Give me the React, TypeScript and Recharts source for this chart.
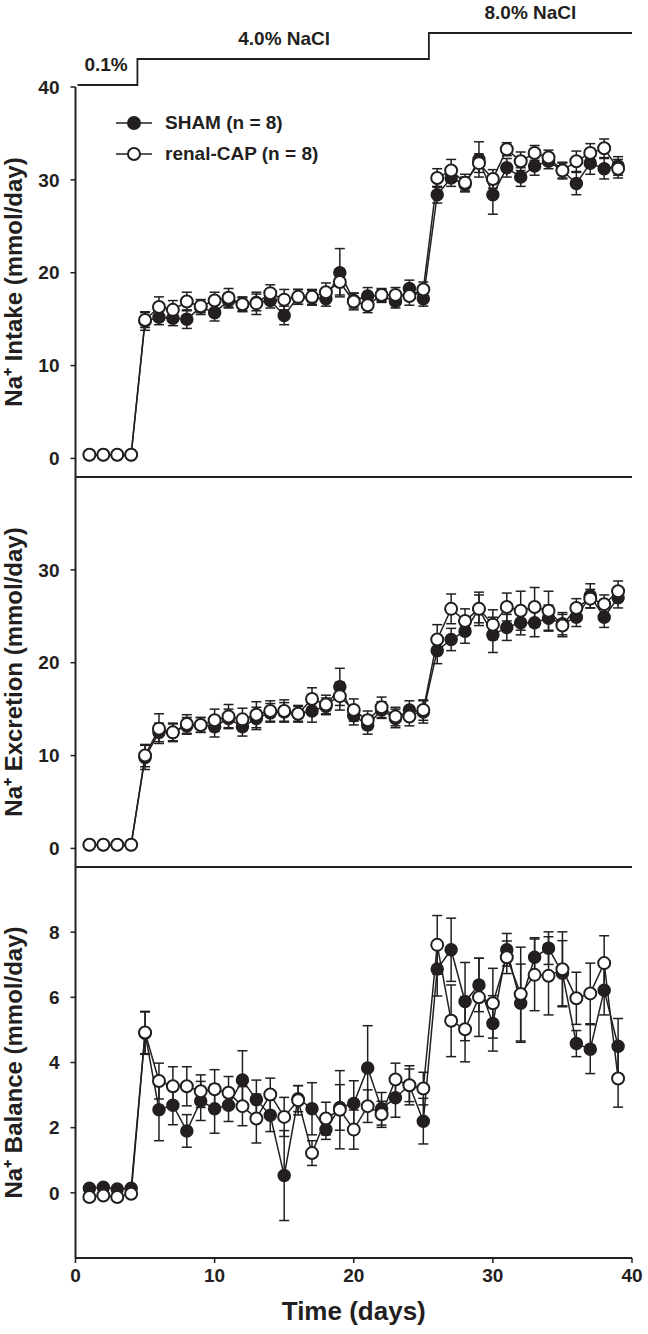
import React from 'react';
import {
  ComposedChart,
  Line,
  XAxis,
  YAxis,
  ErrorBar,
  ReferenceLine,
  ReferenceDot,
  Legend,
  Label
} from 'recharts';

const INK = '#231f20';
const FONT = '"Liberation Sans", Arial, sans-serif';

const days = [
  1, 2, 3, 4, 5, 6, 7, 8, 9, 10, 11, 12, 13, 14, 15, 16, 17, 18, 19, 20,
  21, 22, 23, 24, 25, 26, 27, 28, 29, 30, 31, 32, 33, 34, 35, 36, 37, 38, 39
];

// Na+ intake (mmol/day)
const intakeSham = [
  0.4, 0.4, 0.4, 0.4, 14.8, 15.2, 15.1, 15.0, 16.3, 15.7, 17.0, 16.6, 16.8, 17.0, 15.4, 17.4, 17.3, 17.2, 20.0, 17.0,
  17.5, 17.5, 16.9, 18.3, 17.2, 28.4, 30.2, 29.5, 32.2, 28.4, 31.3, 30.3, 31.5, 32.0, 31.0, 29.6, 31.8, 31.2, 31.5
];
const intakeCap = [
  0.4, 0.4, 0.4, 0.4, 14.9, 16.3, 16.0, 16.9, 16.4, 17.0, 17.3, 16.6, 16.7, 17.8, 17.1, 17.4, 17.4, 17.9, 19.0, 16.9,
  16.5, 17.6, 17.6, 17.5, 18.2, 30.2, 31.0, 29.7, 31.8, 30.1, 33.3, 32.0, 32.9, 32.4, 31.0, 32.0, 32.9, 33.4, 31.2
];
const intakeShamErr = [
  0.1, 0.1, 0.1, 0.1, 1.0, 0.8, 0.8, 1.0, 0.8, 0.9, 0.8, 0.7, 0.9, 0.8, 1.0, 0.8, 0.8, 0.8, 2.6, 0.8,
  0.9, 0.7, 0.7, 0.9, 0.8, 0.9, 0.9, 0.8, 1.9, 2.1, 1.0, 1.0, 1.0, 0.8, 0.8, 1.2, 1.2, 1.1, 1.0
];
const intakeCapErr = [
  0.1, 0.1, 0.1, 0.1, 0.8, 1.1, 1.0, 1.0, 0.7, 0.9, 1.0, 0.8, 1.2, 0.9, 1.1, 0.8, 0.8, 1.0, 1.4, 0.9,
  0.8, 0.7, 0.8, 1.0, 0.8, 1.0, 1.2, 0.9, 1.0, 1.0, 0.7, 1.0, 0.8, 0.8, 0.9, 1.1, 1.0, 1.0, 1.0
];

// Na+ excretion (mmol/day)
const excSham = [
  0.4, 0.4, 0.4, 0.4, 9.8, 12.5, 12.5, 13.2, 13.3, 13.1, 14.0, 13.1, 14.0, 14.6, 14.7, 14.5, 14.8, 15.3, 17.4, 14.3,
  13.3, 14.9, 14.0, 14.9, 14.7, 21.3, 22.5, 23.4, 25.8, 23.0, 23.8, 24.3, 24.3, 24.8, 24.2, 24.9, 27.2, 24.9, 27.0
];
const excCap = [
  0.4, 0.4, 0.4, 0.4, 10.0, 12.9, 12.5, 13.4, 13.3, 13.8, 14.2, 13.9, 14.4, 14.8, 14.8, 14.5, 16.1, 15.5, 16.4, 14.9,
  13.8, 15.2, 14.2, 14.2, 14.9, 22.5, 25.8, 24.5, 25.8, 24.1, 26.0, 25.6, 26.0, 25.6, 24.0, 25.9, 26.9, 26.3, 27.7
];
const excShamErr = [
  0.1, 0.1, 0.1, 0.1, 1.3, 1.0, 0.9, 0.9, 0.8, 1.1, 1.0, 1.0, 1.2, 1.0, 1.0, 0.9, 1.2, 0.9, 2.0, 1.0,
  1.0, 0.9, 1.0, 1.0, 1.2, 1.4, 1.2, 1.3, 1.5, 1.9, 1.4, 1.3, 1.5, 1.4, 1.2, 1.0, 1.3, 1.1, 1.1
];
const excCapErr = [
  0.1, 0.1, 0.1, 0.1, 1.2, 1.6, 1.0, 1.0, 0.8, 1.2, 1.3, 1.2, 1.4, 1.1, 1.2, 0.8, 1.2, 1.0, 1.5, 1.2,
  1.0, 1.1, 1.0, 1.0, 1.1, 1.6, 1.6, 1.3, 1.8, 1.6, 1.5, 2.1, 2.1, 2.1, 1.2, 1.0, 1.0, 1.0, 1.1
];

// Na+ balance (mmol/day)
const balSham = [
  0.14, 0.17, 0.12, 0.14, 4.9, 2.55, 2.69, 1.9, 2.82, 2.58, 2.69, 3.46, 2.86, 2.38, 0.53, 2.89, 2.58, 1.94, 2.62, 2.74,
  3.83, 2.58, 2.92, 3.3, 2.2, 6.87, 7.46, 5.87, 6.38, 5.2, 7.46, 5.82, 7.23, 7.51, 6.74, 4.58, 4.41, 6.22, 4.5
];
const balCap = [
  -0.13, -0.08, -0.13, -0.03, 4.92, 3.43, 3.27, 3.27, 3.12, 3.18, 3.07, 2.66, 2.28, 3.02, 2.33, 2.84, 1.22, 2.28, 2.55, 1.94,
  2.66, 2.41, 3.48, 3.3, 3.2, 7.61, 5.28, 5.02, 6.0, 5.82, 7.23, 6.1, 6.69, 6.66, 6.86, 5.97, 6.12, 7.05, 3.51
];
const balShamErr = [
  0.05, 0.05, 0.05, 0.05, 0.65, 0.95, 0.6, 0.5, 0.6, 0.75, 0.5, 0.9, 0.6, 0.5, 1.38, 0.4, 0.8, 0.3, 0.7, 0.7,
  1.3, 0.5, 0.6, 0.5, 0.7, 0.83, 0.97, 1.2, 0.82, 0.85, 0.5, 1.2, 0.6, 0.5, 1.0, 0.4, 0.75, 0.76, 0.85
];
const balCapErr = [
  0.05, 0.05, 0.05, 0.05, 0.65, 0.55, 0.6, 0.6, 0.5, 0.6, 0.5, 0.6, 0.75, 0.5, 0.6, 0.45, 0.38, 0.5, 1.2, 0.6,
  0.5, 0.4, 0.5, 0.6, 0.5, 0.9, 1.1, 1.0, 1.2, 1.07, 0.5, 1.44, 1.1, 1.2, 1.15, 0.8, 0.93, 0.84, 0.88
];

// diet NaCl steps above the top panel
const saltDays = [0.15, 4.45, 25.4, 40];
const saltLevels = [0, 1, 2, 2];
const saltLabels = ['0.1%', '4.0% NaCl', '8.0% NaCl'];
const saltLabelDays = [2.2, 15.0, 32.7];
const saltLabelLevels = [0, 1, 2];

const legendNames = ['SHAM (n = 8)', 'renal-CAP (n = 8)'];
const legendFills = [INK, '#ffffff'];

const xTicks = [0, 10, 20, 30, 40];

const toRows = (sham: number[], cap: number[], shamErr: number[], capErr: number[]) =>
  days.map((day, i) => ({ day, sham: sham[i], cap: cap[i], shamErr: shamErr[i], capErr: capErr[i] }));

const saltData = saltDays.map((day, i) => ({ day, level: saltLevels[i] }));

const tickStyle = { fill: INK, fontSize: 19, fontWeight: 700, fontFamily: FONT };

const renderLegend = () => (
  <div style={{ fontFamily: FONT, fontSize: 19, fontWeight: 700, color: INK }}>
    {legendNames.map((name, i) => (
      <div key={name} style={{ display: 'flex', alignItems: 'center', height: 31 }}>
        <svg width={36} height={16}>
          <line x1={0} y1={8} x2={36} y2={8} stroke={INK} strokeWidth={1.5} />
          <circle cx={18} cy={8} r={6} fill={legendFills[i]} stroke={INK} strokeWidth={2} />
        </svg>
        <span style={{ marginLeft: 13 }}>{name}</span>
      </div>
    ))}
  </div>
);

interface PanelProps {
  data: ReturnType<typeof toRows>;
  top: number;
  height: number;
  margin: { top: number; right: number; bottom: number; left: number };
  domain: [number, number];
  ticks: number[];
  label: string;
  showX?: boolean;
  separator?: boolean;
  legend?: boolean;
}

const Panel: React.FC<PanelProps> = ({ data, top, height, margin, domain, ticks, label, showX, separator, legend }) => (
  <div style={{ position: 'absolute', left: 0, top }}>
    <ComposedChart width={648} height={height} data={data} margin={margin}>
      <XAxis
        dataKey="day"
        type="number"
        domain={[0, 40]}
        ticks={xTicks}
        interval={0}
        hide={!showX}
        height={72}
        axisLine={{ stroke: INK, strokeWidth: 2 }}
        tickLine={{ stroke: INK, strokeWidth: 1.5 }}
        tickSize={5}
        tickMargin={6}
        tick={tickStyle}
      >
        <Label
          value="Time (days)"
          position="insideBottom"
          offset={10}
          style={{ fill: INK, fontSize: 26, fontWeight: 700, fontFamily: FONT }}
        />
      </XAxis>
      <YAxis
        type="number"
        domain={domain}
        ticks={ticks}
        interval={0}
        allowDataOverflow
        width={70}
        axisLine={{ stroke: INK, strokeWidth: 2 }}
        tickLine={{ stroke: INK, strokeWidth: 1.5 }}
        tickSize={5}
        tickMargin={11}
        tick={tickStyle}
      >
        <Label
          value={label}
          angle={-90}
          position="insideLeft"
          offset={8}
          style={{ textAnchor: 'middle', fill: INK, fontSize: 24, fontWeight: 700, fontFamily: FONT }}
        />
      </YAxis>
      {separator && <ReferenceLine y={domain[0]} stroke={INK} strokeWidth={2} />}
      {legend && (
        <Legend
          layout="horizontal"
          verticalAlign="middle"
          align="center"
          wrapperStyle={{ left: 116, top: 107, width: 'auto' }}
          content={renderLegend}
        />
      )}
      <Line
        dataKey="sham"
        name={legendNames[0]}
        stroke={INK}
        strokeWidth={1.5}
        dot={{ r: 6, fill: INK, stroke: INK, strokeWidth: 1.5 }}
        activeDot={false}
        isAnimationActive={false}
      >
        <ErrorBar dataKey="shamErr" direction="y" width={5} stroke={INK} strokeWidth={1.5} />
      </Line>
      <Line
        dataKey="cap"
        name={legendNames[1]}
        stroke={INK}
        strokeWidth={1.5}
        dot={{ r: 6, fill: '#ffffff', stroke: INK, strokeWidth: 2 }}
        activeDot={false}
        isAnimationActive={false}
      >
        <ErrorBar dataKey="capErr" direction="y" width={5} stroke={INK} strokeWidth={1.5} />
      </Line>
    </ComposedChart>
  </div>
);

const App: React.FC = () => (
  <div style={{ position: 'absolute', left: 0, top: 0, width: 648, height: 1334, background: '#ffffff' }}>
    {/* NaCl diet steps */}
    <div style={{ position: 'absolute', left: 0, top: 0 }}>
      <ComposedChart width={648} height={87} data={saltData} margin={{ top: 33, right: 16, bottom: 2, left: 75.5 }}>
        <XAxis dataKey="day" type="number" domain={[0, 40]} hide />
        <YAxis type="number" domain={[0, 2]} hide width={0} />
        <Line
          type="stepAfter"
          dataKey="level"
          stroke={INK}
          strokeWidth={1.8}
          dot={false}
          activeDot={false}
          isAnimationActive={false}
        />
        {saltLabels.map((text, i) => (
          <ReferenceDot
            key={text}
            x={saltLabelDays[i]}
            y={saltLabelLevels[i]}
            r={0}
            stroke="none"
            fill="none"
            ifOverflow="visible"
            label={{ value: text, position: 'top', offset: 14, fill: INK, fontSize: 19, fontWeight: 700, fontFamily: FONT }}
          />
        ))}
      </ComposedChart>
    </div>

    <Panel
      data={toRows(intakeSham, intakeCap, intakeShamErr, intakeCapErr)}
      top={0}
      height={480}
      margin={{ top: 87, right: 16, bottom: 3, left: 5.5 }}
      domain={[-2, 40]}
      ticks={[0, 10, 20, 30, 40]}
      label="Na⁺ Intake (mmol/day)"
      separator
      legend
    />
    <Panel
      data={toRows(excSham, excCap, excShamErr, excCapErr)}
      top={470}
      height={400}
      margin={{ top: 7, right: 16, bottom: 3, left: 5.5 }}
      domain={[-2, 40]}
      ticks={[0, 10, 20, 30]}
      label="Na⁺ Excretion (mmol/day)"
      separator
    />
    <Panel
      data={toRows(balSham, balCap, balShamErr, balCapErr)}
      top={860}
      height={474}
      margin={{ top: 7, right: 16, bottom: 4, left: 5.5 }}
      domain={[-2, 10]}
      ticks={[0, 2, 4, 6, 8]}
      label="Na⁺ Balance (mmol/day)"
      showX
    />
  </div>
);

export default App;
